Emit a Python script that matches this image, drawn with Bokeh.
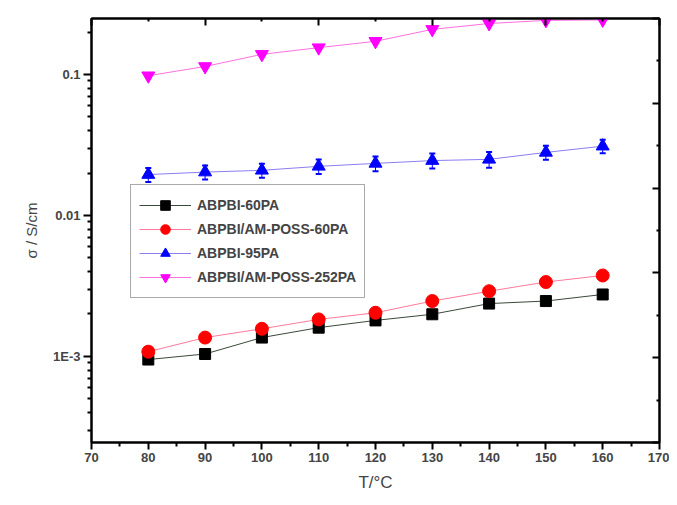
from bokeh.plotting import figure
from bokeh.models import (Range1d, LinearAxis, FixedTicker, LinearScale, ColumnDataSource,
                          Whisker, Legend, CustomJSTickFormatter)
from bokeh.embed import file_html
from bokeh.resources import INLINE

# ---- data ----
temps = [80, 90, 100, 110, 120, 130, 140, 150, 160]
abpbi_60pa = [9.5e-4, 1.04e-3, 1.36e-3, 1.6e-3, 1.8e-3, 1.99e-3, 2.37e-3, 2.47e-3, 2.75e-3]
poss_60pa = [1.08e-3, 1.36e-3, 1.57e-3, 1.83e-3, 2.04e-3, 2.47e-3, 2.9e-3, 3.37e-3, 3.75e-3]
abpbi_95pa = [0.0195, 0.0203, 0.0209, 0.0223, 0.0234, 0.0245, 0.025, 0.028, 0.031]
abpbi_95pa_err = [0.0022, 0.0023, 0.0024, 0.0026, 0.0028, 0.003, 0.0032, 0.0032, 0.0034]
poss_252pa = [0.098, 0.114, 0.139, 0.155, 0.172, 0.209, 0.23, 0.242, 0.244]

x_ticks = [70, 80, 90, 100, 110, 120, 130, 140, 150, 160, 170]
y_ticks = [1e-3, 1e-2, 1e-1]
y_tick_labels = {1e-3: "1E-3", 1e-2: "0.01", 1e-1: "0.1"}

FONT = "Liberation Sans"

p = figure(width=669, height=497, output_backend="svg", toolbar_location=None,
           y_axis_type="log",
           x_range=Range1d(70, 170), y_range=Range1d(2.45e-4, 0.2496),
           min_border_left=91, min_border_right=10, min_border_top=18, min_border_bottom=55)
p.grid.visible = False
p.outline_line_color = "black"
p.outline_line_width = 2
p.background_fill_color = "white"
p.border_fill_color = "white"

# bottom axis
xa = p.xaxis[0]
xa.ticker = FixedTicker(ticks=x_ticks, minor_ticks=[t + 5 for t in x_ticks[:-1]])
xa.axis_label = "T/°C"
xa.axis_label_text_font = FONT
xa.axis_label_text_font_size = "17px"
xa.axis_label_text_font_style = "normal"
xa.axis_label_standoff = 8
xa.major_label_text_font = FONT
xa.major_label_text_font_size = "13px"
xa.major_label_text_font_style = "bold"
xa.major_label_standoff = 3
xa.axis_line_width = 2
xa.major_tick_line_width = 2
xa.minor_tick_line_width = 2
xa.major_tick_out = 7
xa.major_tick_in = 0
xa.minor_tick_out = 4
xa.minor_tick_in = 0

# left axis
ya = p.yaxis[0]
minor_y = [m * d for d in [1e-4, 1e-3, 1e-2, 1e-1] for m in range(2, 10)]
ya.ticker = FixedTicker(ticks=y_ticks, minor_ticks=minor_y)
ya.major_label_overrides = y_tick_labels
ya.axis_label = "σ / S/cm"
ya.axis_label_text_font = FONT
ya.axis_label_text_font_size = "15px"
ya.axis_label_text_font_style = "normal"
ya.axis_label_standoff = 10
ya.major_label_text_font = FONT
ya.major_label_text_font_size = "13px"
ya.major_label_text_font_style = "bold"
ya.major_label_standoff = 3
ya.axis_line_width = 2
ya.major_tick_line_width = 2
ya.minor_tick_line_width = 2
ya.major_tick_out = 8
ya.major_tick_in = 0
ya.minor_tick_out = 4
ya.minor_tick_in = 0

# mirrored top / right axes (inward ticks only, no labels)
p.extra_x_ranges = {"top": Range1d(0, 1)}
p.extra_x_scales = {"top": LinearScale()}
p.extra_y_ranges = {"right": Range1d(0, 1)}
p.extra_y_scales = {"right": LinearScale()}
frac_major = [0, 0.2, 0.4, 0.6, 0.8, 1.0]
frac_minor = [0.1, 0.3, 0.5, 0.7, 0.9]
for name, place in (("top", "above"), ("right", "right")):
    if name == "top":
        ax = LinearAxis(x_range_name="top")
    else:
        ax = LinearAxis(y_range_name="right")
    ax.ticker = FixedTicker(ticks=frac_major, minor_ticks=frac_minor)
    ax.formatter = CustomJSTickFormatter(code="return '';")
    ax.major_label_standoff = 0
    ax.axis_line_width = 2
    ax.major_tick_line_width = 2
    ax.minor_tick_line_width = 2
    ax.major_tick_in = 7
    ax.major_tick_out = 0
    ax.minor_tick_in = 3
    ax.minor_tick_out = 0
    p.add_layout(ax, place)

# error bars for ABPBI-95PA
err_src = ColumnDataSource(dict(
    x=temps,
    upper=[v + e for v, e in zip(abpbi_95pa, abpbi_95pa_err)],
    lower=[v - e for v, e in zip(abpbi_95pa, abpbi_95pa_err)],
))
wh = Whisker(source=err_src, base="x", upper="upper", lower="lower",
             line_color="blue", line_width=1)
wh.upper_head.size = 6
wh.lower_head.size = 6
wh.upper_head.line_color = "blue"
wh.lower_head.line_color = "blue"
wh.upper_head.line_width = 2
wh.lower_head.line_width = 2
p.add_layout(wh)

series = [
    ("ABPBI-60PA", abpbi_60pa, "#3a4a3a", "black", "square", 11),
    ("ABPBI/AM-POSS-60PA", poss_60pa, "#ff7a9a", "red", "circle", 13),
    ("ABPBI-95PA", abpbi_95pa, "#8a7ef0", "blue", "triangle", 13),
    ("ABPBI/AM-POSS-252PA", poss_252pa, "#ff70e0", "magenta", "inverted_triangle", 13),
]
items = []
for label, vals, lc, mc, marker, size in series:
    r1 = p.line(temps, vals, line_color=lc, line_width=1)
    r2 = p.scatter(temps, vals, marker=marker, size=size, fill_color=mc, line_color=mc)
    items.append((label, [r1, r2]))

legend = Legend(items=items, location=(39, 144))
legend.label_text_font = FONT
legend.label_text_font_size = "14px"
legend.label_text_font_style = "bold"
legend.border_line_color = "#555555"
legend.border_line_width = 1
legend.background_fill_alpha = 1
legend.glyph_width = 52
legend.glyph_height = 24
legend.label_height = 16
legend.label_standoff = 6
legend.spacing = 0
legend.padding = 8
legend.margin = 0
p.add_layout(legend, "center")

open("out.html", "w").write(file_html(p, INLINE))
